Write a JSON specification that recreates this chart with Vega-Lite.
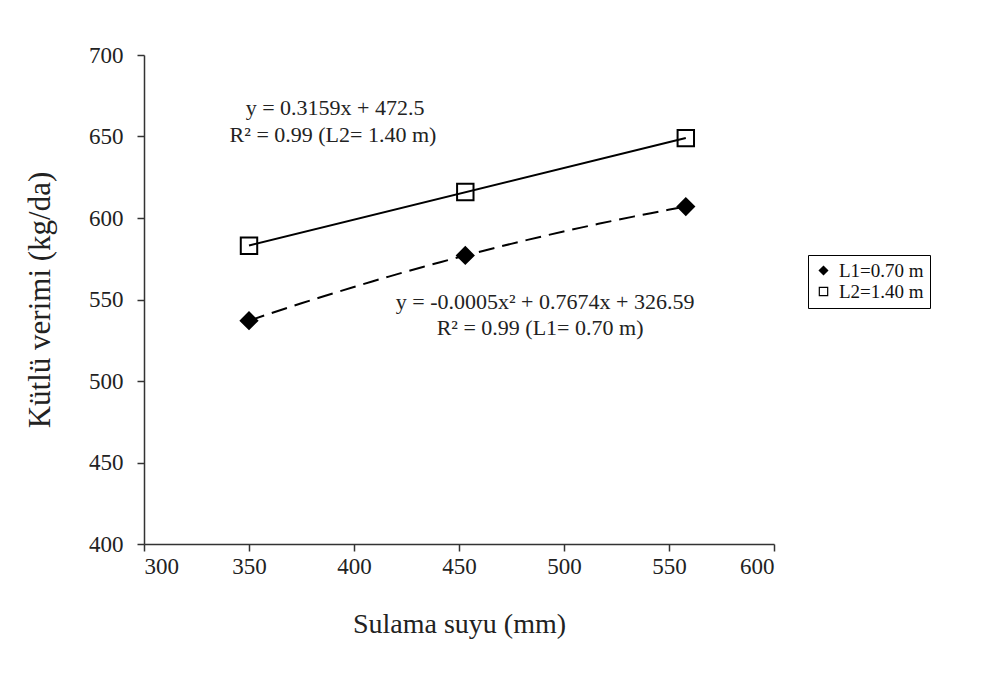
{
  "$schema": "https://vega.github.io/schema/vega-lite/v6.json",
  "width": 630,
  "height": 489,
  "autosize": "none",
  "padding": {"left": 144, "top": 55, "right": 212, "bottom": 137},
  "background": "white",
  "config": {"view": {"stroke": null}, "font": "Liberation Serif"},
  "data": {
    "values": [
      {"series": "L1=0.70 m", "x": 350, "y": 537},
      {"series": "L1=0.70 m", "x": 453, "y": 577},
      {"series": "L1=0.70 m", "x": 558, "y": 607},
      {"series": "L2=1.40 m", "x": 350, "y": 583},
      {"series": "L2=1.40 m", "x": 453, "y": 616},
      {"series": "L2=1.40 m", "x": 558, "y": 649}
    ]
  },
  "encoding": {
    "x": {
      "field": "x", "type": "quantitative",
      "scale": {"domain": [300, 600], "nice": false, "zero": false},
      "axis": {
        "title": "Sulama suyu (mm)", "values": [300, 350, 400, 450, 500, 550, 600],
        "grid": false, "domainColor": "#333", "domainWidth": 1.5, "tickColor": "#333", "tickSize": 7, "tickWidth": 1.5,
        "labelFont": "Liberation Serif", "labelFontSize": 23, "labelColor": "#222", "labelPadding": 4,
        "titleFont": "Liberation Serif", "titleFontSize": 28, "titleFontWeight": "normal", "titleColor": "#222", "titlePadding": 32
      }
    },
    "y": {
      "field": "y", "type": "quantitative",
      "scale": {"domain": [400, 700], "nice": false, "zero": false},
      "axis": {
        "title": "Kütlü verimi (kg/da)", "values": [400, 450, 500, 550, 600, 650, 700],
        "grid": false, "domainColor": "#333", "domainWidth": 1.5, "tickColor": "#333", "tickSize": 7, "tickWidth": 1.5,
        "labelFont": "Liberation Serif", "labelFontSize": 23, "labelColor": "#222", "labelPadding": 14,
        "titleFont": "Liberation Serif", "titleFontSize": 31, "titleFontWeight": "normal", "titleColor": "#222", "titlePadding": 32
      }
    }
  },
  "layer": [
    {
      "transform": [
        {"filter": "datum.series === 'L2=1.40 m'"},
        {"regression": "y", "on": "x", "method": "linear"}
      ],
      "mark": {"type": "line", "color": "black", "strokeWidth": 2}
    },
    {
      "transform": [
        {"filter": "datum.series === 'L1=0.70 m'"},
        {"regression": "y", "on": "x", "method": "poly", "order": 2}
      ],
      "mark": {"type": "line", "color": "black", "strokeWidth": 2, "strokeDash": [16, 8]}
    },
    {
      "mark": {"type": "point", "strokeWidth": 2, "opacity": 1, "size": 270},
      "encoding": {
        "shape": {
          "field": "series", "type": "nominal",
          "scale": {"domain": ["L1=0.70 m", "L2=1.40 m"], "range": ["diamond", "square"]},
          "legend": {
            "title": null, "orient": "none", "legendX": 664, "legendY": 200,
            "strokeColor": "black", "padding": 6, "rowPadding": 1, "labelOffset": 6,
            "labelFont": "Liberation Serif", "labelFontSize": 19, "labelColor": "#111",
            "symbolSize": 70, "symbolStrokeWidth": 1.2
          }
        },
        "fill": {
          "field": "series", "type": "nominal",
          "scale": {"domain": ["L1=0.70 m", "L2=1.40 m"], "range": ["black", "transparent"]},
          "legend": {
            "title": null, "orient": "none", "legendX": 664, "legendY": 200,
            "strokeColor": "black", "padding": 6, "rowPadding": 1, "labelOffset": 6,
            "labelFont": "Liberation Serif", "labelFontSize": 19, "labelColor": "#111",
            "symbolSize": 70, "symbolStrokeWidth": 1.2
          }
        },
        "stroke": {
          "field": "series", "type": "nominal",
          "scale": {"domain": ["L1=0.70 m", "L2=1.40 m"], "range": ["black", "black"]},
          "legend": {
            "title": null, "orient": "none", "legendX": 664, "legendY": 200,
            "strokeColor": "black", "padding": 6, "rowPadding": 1, "labelOffset": 6,
            "labelFont": "Liberation Serif", "labelFontSize": 19, "labelColor": "#111",
            "symbolSize": 70, "symbolStrokeWidth": 1.2
          }
        }
      }
    },
    {
      "data": {
        "values": [
          {"x": 391, "y": 667.5, "label": "y = 0.3159x + 472.5"},
          {"x": 390, "y": 651, "label": "R² = 0.99 (L2= 1.40 m)"},
          {"x": 491, "y": 548.5, "label": "y = -0.0005x² + 0.7674x + 326.59"},
          {"x": 488.6, "y": 532.5, "label": "R² = 0.99 (L1= 0.70 m)"}
        ]
      },
      "mark": {"type": "text", "font": "Liberation Serif", "fontSize": 22, "color": "#222", "align": "center", "baseline": "middle"},
      "encoding": {"text": {"field": "label"}}
    }
  ]
}
